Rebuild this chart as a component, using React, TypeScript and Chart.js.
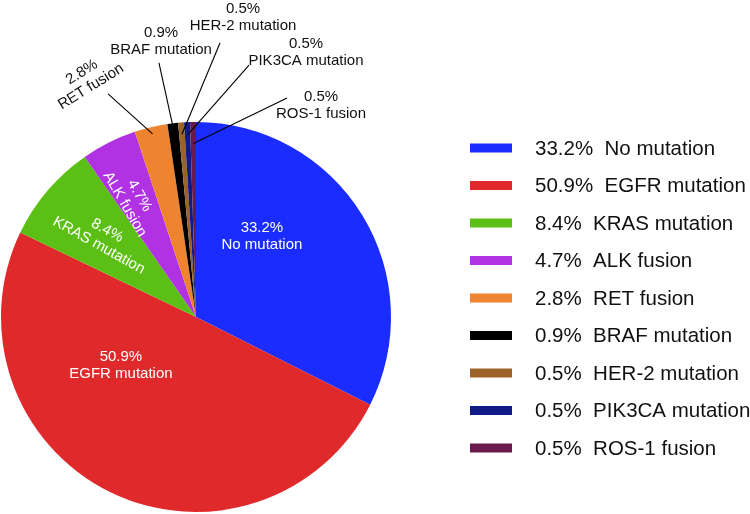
import React, { useEffect, useRef } from "react";
import { Chart, registerables } from "chart.js";

Chart.register(...registerables);

// ---- Data ----
const categories = [
  "No mutation",
  "EGFR mutation",
  "KRAS mutation",
  "ALK fusion",
  "RET fusion",
  "BRAF mutation",
  "HER-2 mutation",
  "PIK3CA mutation",
  "ROS-1 fusion",
];
const percentages = [33.2, 50.9, 8.4, 4.7, 2.8, 0.9, 0.5, 0.5, 0.5];
const percentLabels = ["33.2%", "50.9%", "8.4%", "4.7%", "2.8%", "0.9%", "0.5%", "0.5%", "0.5%"];
const colors = [
  "#1a2cff",
  "#e0292b",
  "#5cbf15",
  "#b032e2",
  "#ee8330",
  "#000000",
  "#9b6326",
  "#101b86",
  "#6a1a4c",
];

// ---- Label layout (in units of the pie radius, relative to the pie centre) ----
type LabelLayout = {
  inside: boolean;
  dx: number;
  dy: number;
  rot: number;
  lineFrac?: number;
  lx?: number;
  ly?: number;
};
const labelLayout: LabelLayout[] = [
  { inside: true, dx: 0.338, dy: -0.411, rot: 0 },
  { inside: true, dx: -0.385, dy: 0.246, rot: 0 },
  { inside: true, dx: -0.477, dy: -0.405, rot: 29 },
  { inside: true, dx: -0.328, dy: -0.6, rot: 60 },
  { inside: false, dx: -0.562, dy: -1.218, rot: -32, lineFrac: 0.965, lx: -0.451, ly: -1.144 },
  { inside: false, dx: -0.179, dy: -1.415, rot: 0, lineFrac: 0.975, lx: -0.19, ly: -1.303 },
  { inside: false, dx: 0.241, dy: -1.538, rot: 0, lineFrac: 0.94, lx: 0.123, ly: -1.405 },
  { inside: false, dx: 0.564, dy: -1.359, rot: 0, lineFrac: 0.935, lx: 0.272, ly: -1.292 },
  { inside: false, dx: 0.641, dy: -1.087, rot: 0, lineFrac: 0.89, lx: 0.467, ly: -1.123 },
];

const FONT = '"Liberation Sans", Arial, Helvetica, sans-serif';

const labelPlugin = {
  id: "sliceLabelsAndLegend",
  afterDatasetsDraw(chart: any) {
    const ctx: CanvasRenderingContext2D = chart.ctx;
    const meta = chart.getDatasetMeta(0);
    ctx.save();
    meta.data.forEach((arc: any, i: number) => {
      const { x, y, startAngle, endAngle, outerRadius } = arc.getProps(
        ["x", "y", "startAngle", "endAngle", "outerRadius"],
        true
      );
      const R = outerRadius;
      const L = labelLayout[i];
      if (!L) return;
      if (!L.inside) {
        const mid = (startAngle + endAngle) / 2;
        const sx = x + Math.cos(mid) * R * (L.lineFrac as number);
        const sy = y + Math.sin(mid) * R * (L.lineFrac as number);
        ctx.beginPath();
        ctx.moveTo(sx, sy);
        ctx.lineTo(x + (L.lx as number) * R, y + (L.ly as number) * R);
        ctx.strokeStyle = "#000";
        ctx.lineWidth = 1.1;
        ctx.stroke();
      }
      ctx.save();
      ctx.translate(x + L.dx * R, y + L.dy * R);
      ctx.rotate((L.rot * Math.PI) / 180);
      ctx.fillStyle = L.inside ? "#ffffff" : "#111111";
      ctx.font = `15px ${FONT}`;
      ctx.textAlign = "center";
      ctx.textBaseline = "middle";
      ctx.fillText(percentLabels[i], 0, -8.5);
      ctx.fillText(categories[i], 0, 8.5);
      ctx.restore();
    });

    // Legend
    const boxX = 470;
    const boxW = 42;
    const boxH = 9;
    const textX = 535;
    const firstY = 148;
    const stepY = 37.5;
    ctx.font = `20.5px ${FONT}`;
    ctx.textAlign = "left";
    ctx.textBaseline = "middle";
    categories.forEach((name, i) => {
      const cy = firstY + i * stepY;
      ctx.fillStyle = colors[i];
      ctx.fillRect(boxX, cy - boxH / 2, boxW, boxH);
      ctx.fillStyle = "#111111";
      ctx.fillText(`${percentLabels[i]}  ${name}`, textX, cy + 1);
    });
    ctx.restore();
  },
};

export default function App() {
  const canvasRef = useRef<HTMLCanvasElement | null>(null);

  useEffect(() => {
    if (!canvasRef.current) return;
    const chart = new Chart(canvasRef.current, {
      type: "pie",
      data: {
        labels: categories,
        datasets: [
          {
            data: percentages,
            backgroundColor: colors,
            borderWidth: 0,
          },
        ],
      },
      options: {
        responsive: false,
        animation: false,
        layout: { padding: { left: 1, top: 122, right: 359, bottom: 2 } },
        plugins: {
          legend: { display: false },
          tooltip: { enabled: false },
        },
      },
      plugins: [labelPlugin],
    });
    return () => chart.destroy();
  }, []);

  return (
    <div style={{ position: "absolute", left: 0, top: 0, width: 750, height: 514, background: "#fff" }}>
      <canvas ref={canvasRef} width={750} height={514} />
    </div>
  );
}
